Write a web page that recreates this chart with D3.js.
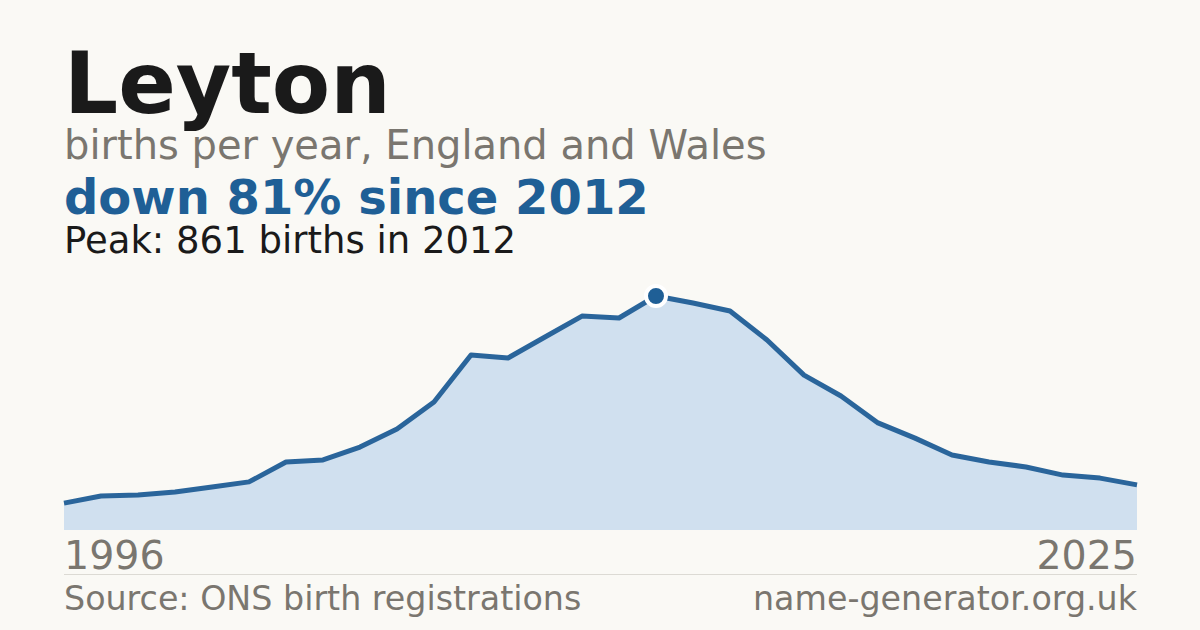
<!DOCTYPE html>
<html>
<head>
<meta charset="utf-8">
<script src="https://cdn.jsdelivr.net/npm/d3@7"></script>
<style>
  body { margin: 0; background: #faf9f5; }
  svg { display: block; font-family: "DejaVu Sans", sans-serif; }
</style>
</head>
<body>
<svg></svg>
<script>
// Set up dimensions
const width = 1200, height = 630;
const margin = { top: 296, right: 63, bottom: 100, left: 64 };

// Births per year in Leyton
const years = d3.range(1996, 2026);
const births = [99, 125, 129, 140, 158, 177, 250, 258, 305, 372,
                471, 644, 633, 710, 787, 780, 861, 835, 806, 699,
                570, 493, 394, 338, 276, 250, 232, 202, 191, 166];

const title = "Leyton";
const subtitle = "births per year, England and Wales";
const source = "Source: ONS birth registrations";
const site = "name-generator.org.uk";

const data = years.map((y, i) => ({ year: y, value: births[i] }));
const peak = data.reduce((a, b) => (b.value > a.value ? b : a));
const last = data[data.length - 1];
const change = Math.round((1 - last.value / peak.value) * 100);

const svg = d3.select("svg")
    .attr("width", width)
    .attr("height", height);

// Scales
const x = d3.scaleLinear()
    .domain(d3.extent(years))
    .range([margin.left, width - margin.right]);
const y = d3.scaleLinear()
    .domain([0, peak.value])
    .range([height - margin.bottom, margin.top]);

// Headings
svg.append("text")
    .attr("x", 64).attr("y", 113)
    .style("font-size", "85px").style("font-weight", "bold")
    .attr("fill", "#1a1a1a")
    .text(title);

svg.append("text")
    .attr("x", 64).attr("y", 159)
    .style("font-size", "40px")
    .attr("fill", "#7a766f")
    .text(subtitle);

svg.append("text")
    .attr("x", 64).attr("y", 214)
    .style("font-size", "48px").style("font-weight", "bold")
    .attr("fill", "#1f5f96")
    .text(`down ${change}% since ${peak.year}`);

svg.append("text")
    .attr("x", 64).attr("y", 253)
    .style("font-size", "37px")
    .attr("fill", "#1a1a1a")
    .text(`Peak: ${peak.value} births in ${peak.year}`);

// Area and line
const area = d3.area()
    .x(d => x(d.year))
    .y0(y(0))
    .y1(d => y(d.value));

const line = d3.line()
    .x(d => x(d.year))
    .y(d => y(d.value));

svg.append("path")
    .datum(data)
    .attr("d", area)
    .attr("fill", "#d0e0ef");

svg.append("path")
    .datum(data)
    .attr("d", line)
    .attr("fill", "none")
    .attr("stroke", "#2a659b")
    .attr("stroke-width", 5)
    .attr("stroke-linejoin", "round");

// Peak marker
svg.append("circle")
    .attr("cx", x(peak.year))
    .attr("cy", y(peak.value))
    .attr("r", 10)
    .attr("fill", "#1f5f96")
    .attr("stroke", "#ffffff")
    .attr("stroke-width", 4);

// Year labels
svg.append("text")
    .attr("x", x(years[0])).attr("y", 569)
    .style("font-size", "39.5px")
    .attr("fill", "#7a766f")
    .text(years[0]);

svg.append("text")
    .attr("x", x(years[years.length - 1])).attr("y", 569)
    .attr("text-anchor", "end")
    .style("font-size", "39.5px")
    .attr("fill", "#7a766f")
    .text(years[years.length - 1]);

// Divider
svg.append("line")
    .attr("x1", margin.left).attr("x2", width - margin.right)
    .attr("y1", 574.5).attr("y2", 574.5)
    .attr("stroke", "#dcdad4")
    .attr("stroke-width", 1);

// Footer
svg.append("text")
    .attr("x", 64).attr("y", 610)
    .style("font-size", "33.3px")
    .attr("fill", "#7a766f")
    .text(source);

svg.append("text")
    .attr("x", width - margin.right).attr("y", 610)
    .attr("text-anchor", "end")
    .style("font-size", "33.3px")
    .attr("fill", "#7a766f")
    .text(site);
</script>
</body>
</html>
